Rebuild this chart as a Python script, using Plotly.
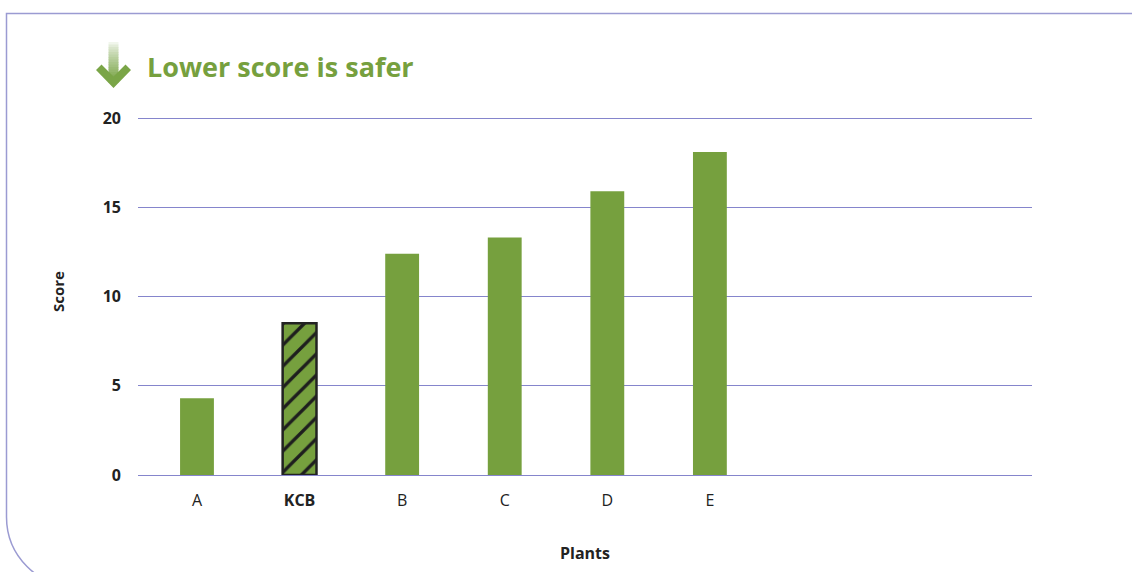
import plotly.graph_objects as go

categories = ["A", "KCB", "B", "C", "D", "E"]
scores = [4.3, 8.5, 12.4, 13.3, 15.9, 18.1]
tick_labels = ["A", "<b>KCB</b>", "B", "C", "D", "E"]
y_ticks = [0, 5, 10, 15, 20]

GREEN = "#76a03e"
W, H = 1132, 572
L, R, T, B = 138, 1032, 108, 475


def px(x):
    return (x - L) / (R - L)


def py(y):
    return (B - y) / (B - T)


pattern_shapes = [""] * len(categories)
pattern_shapes[1] = "/"
line_colors = [GREEN] * len(categories)
line_colors[1] = "#222222"
line_widths = [0] * len(categories)
line_widths[1] = 2.5

fig = go.Figure(
    go.Bar(
        x=categories,
        y=scores,
        marker=dict(color=GREEN,
                    pattern=dict(shape=pattern_shapes, fgcolor="#1e1e1e", fgopacity=1,
                                 size=15, solidity=0.22, fillmode="overlay"),
                    line=dict(color=line_colors, width=line_widths)),
        width=0.33,
        hoverinfo="x+y",
    )
)

shapes = []
# border
r = 70
k = 0.552 * r
x0, y0 = 6.5, 13.5
yb = 517
path = (f"M {px(W+5)},{py(y0)} L {px(x0)},{py(y0)} L {px(x0)},{py(yb)} "
        f"C {px(x0)},{py(yb+k)} {px(x0+r-k)},{py(yb+r)} {px(x0+r)},{py(yb+r)}")
shapes.append(dict(type="path", path=path, xref="paper", yref="paper",
                   line=dict(color="#9b9bd2", width=1.5)))

# arrow shaft with gradient (stacked slices)
n = 16
top, bot = 42, 82
for i in range(n):
    t = i / (n - 1)
    c0 = (255, 255, 255)
    c1 = (0x7a, 0xa5, 0x48)
    col = tuple(int(c0[j] + (c1[j] - c0[j]) * (0.1 + 0.9 * t ** 0.8)) for j in range(3))
    ya = top + (bot - top) * i / n
    yb2 = top + (bot - top) * (i + 1) / n + 0.5
    shapes.append(dict(type="rect", xref="paper", yref="paper",
                       x0=px(108.5), x1=px(118.5), y0=py(ya), y1=py(yb2),
                       fillcolor="rgb(%d,%d,%d)" % col, line=dict(width=0), layer="above"))
# arrow head (chevron)
head = [(96, 70), (101.5, 64.5), (113.5, 76.5), (125.5, 64.5), (131, 70), (113.5, 88)]
hp = "M " + " L ".join(f"{px(a)},{py(b)}" for a, b in head) + " Z"
shapes.append(dict(type="path", path=hp, xref="paper", yref="paper",
                   fillcolor="#7aa547", line=dict(width=0), layer="above"))

fig.update_layout(
    width=W, height=H,
    margin=dict(l=L, r=W - R, t=T, b=H - B),
    paper_bgcolor="white", plot_bgcolor="white",
    font=dict(family="Open Sans", color="#222222"),
    showlegend=False,
    shapes=shapes,
    annotations=[
        dict(text="<b>Lower score is safer</b>", x=px(145), y=py(66), xref="paper", yref="paper",
             xanchor="left", yanchor="middle", showarrow=False,
             font=dict(size=27, color=GREEN, family="Open Sans")),
    ],
    xaxis=dict(
        type="category", range=[-0.575, 8.14],
        tickvals=categories, ticktext=tick_labels,
        showgrid=False, showline=False, ticks="",
        ticklabelstandoff=14,
        tickfont=dict(size=16, color="#222222"),
        title=dict(text="<b>Plants</b>", font=dict(size=16, color="#222222"), standoff=37),
    ),
    yaxis=dict(
        range=[0, 20.56], tickvals=y_ticks,
        ticktext=[f"<b>{v}</b>" for v in y_ticks],
        showgrid=True, gridcolor="#8585cc", gridwidth=1,
        zeroline=True, zerolinecolor="#8585cc", zerolinewidth=1,
        showline=False, ticks="", ticklabelstandoff=16,
        tickfont=dict(size=16, color="#222222"),
        title=dict(text="<b>Score</b>", font=dict(size=15, color="#222222"), standoff=34),
    ),
)

fig.write_html("out.html")
